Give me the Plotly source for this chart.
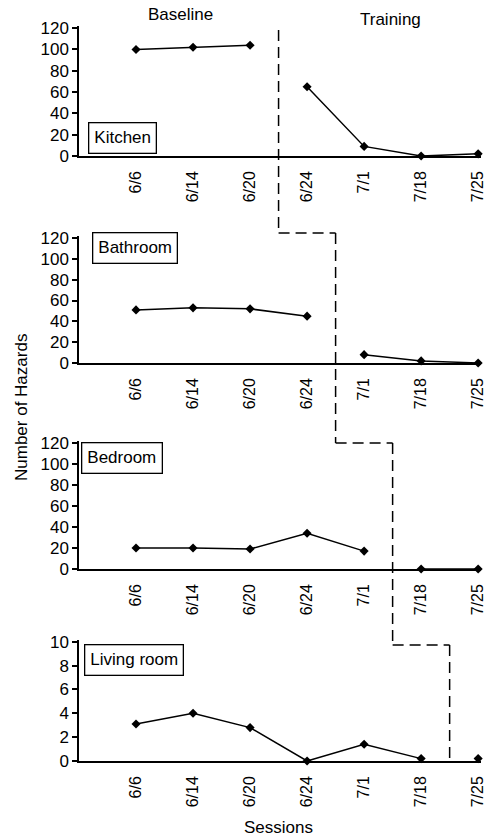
import plotly.graph_objects as go

# ---------------- data ----------------
sessions = ["6/6", "6/14", "6/20", "6/24", "7/1", "7/18", "7/25"]
rooms = ["Kitchen", "Bathroom", "Bedroom", "Living room"]
kitchen = [100, 102, 104, 65, 9, 0, 2]
bathroom = [51, 53, 52, 45, 8, 2, 0]
bedroom = [20, 20, 19, 34, 17, 0, 0]
living_room = [3.1, 4.0, 2.8, 0, 1.4, 0.2, 0.2]
baseline_len = [3, 4, 5, 6]          # number of baseline sessions per room
hazard_ticks = [0, 20, 40, 60, 80, 100, 120]
living_ticks = [0, 2, 4, 6, 8, 10]
phase_labels = ["Baseline", "Training"]
series = [kitchen, bathroom, bedroom, living_room]

# ---------------- layout geometry (pixels) ----------------
W, H = 487, 838
L, R, T, B = 79, 6, 26, 77
PW, PH = W - L - R, H - T - B
panel_px = [(26, 156), (236, 363), (441, 569), (640, 761)]
y_tops = [122, 122, 121.6, 10.15]


def yp(p):
    return (H - B - p) / PH


def xp(p):
    return (p - L) / PW


FONT = "Liberation Sans, Arial, sans-serif"
fig = go.Figure()

for i, (vals, nb) in enumerate(zip(series, baseline_len)):
    xa = "x" if i == 0 else f"x{i+1}"
    ya = "y" if i == 0 else f"y{i+1}"
    for seg in (slice(0, nb), slice(nb, None)):
        fig.add_trace(go.Scatter(
            x=sessions[seg], y=vals[seg], xaxis=xa, yaxis=ya,
            mode="lines+markers",
            line=dict(color="black", width=1.5),
            marker=dict(symbol="diamond", size=7, color="black"),
            cliponaxis=False, showlegend=False, hoverinfo="skip"))

layout = dict(
    width=W, height=H,
    margin=dict(l=L, r=R, t=T, b=B, pad=0, autoexpand=False),
    plot_bgcolor="white", paper_bgcolor="white",
    font=dict(family=FONT, size=16, color="black"),
    showlegend=False,
)

for i in range(4):
    top, bot = panel_px[i]
    xk = "xaxis" if i == 0 else f"xaxis{i+1}"
    yk = "yaxis" if i == 0 else f"yaxis{i+1}"
    layout[xk] = dict(
        domain=[0, 1], anchor="y" if i == 0 else f"y{i+1}",
        type="category", categoryorder="array", categoryarray=sessions,
        range=[-1, 6.05], showline=True, linecolor="black", linewidth=1.5,
        showgrid=False, zeroline=False, ticks="", tickangle=-90,
        automargin=False, ticklabelstandoff=7,
        tickfont=dict(size=16, family=FONT))
    layout[yk] = dict(
        domain=[yp(bot), yp(top)], anchor="x" if i == 0 else f"x{i+1}",
        range=[0, y_tops[i]], automargin=False,
        tickvals=living_ticks if i == 3 else hazard_ticks,
        showline=True, linecolor="black", linewidth=1.5,
        ticks="outside", ticklen=5, tickwidth=1.5, tickcolor="black",
        showgrid=False, zeroline=False,
        tickfont=dict(size=17, family=FONT))

fig.update_layout(**layout)

# room label boxes
label_pos = [(0.022, (156 - 154) / 130, "bottom"),
             (0.032, 1.03, "top"),
             (0.004, 0.995, "top"),
             (0.012, 0.97, "top")]
for i, (name, (lx, ly, ya)) in enumerate(zip(rooms, label_pos)):
    fig.add_annotation(
        text=name, xref=("x" if i == 0 else f"x{i+1}") + " domain",
        yref=("y" if i == 0 else f"y{i+1}") + " domain",
        x=lx, y=ly, xanchor="left", yanchor=ya, showarrow=False,
        font=dict(size=17, family=FONT), bordercolor="black",
        borderwidth=1.3, borderpad=5, bgcolor="white")

# phase-change dashed lines (stepped)
dash = "11px,6px"
step_y = [30, 233, 443, 645, 761]
for i, nb in enumerate(baseline_len):
    xline = nb - 0.5
    fig.add_shape(type="line", xref="x", yref="paper",
                  x0=xline, x1=xline, y0=yp(step_y[i]), y1=yp(step_y[i + 1]),
                  line=dict(color="black", width=1.5, dash=dash))
    if i < 3:
        fig.add_shape(type="line", xref="x", yref="paper",
                      x0=xline, x1=baseline_len[i + 1] - 0.5,
                      y0=yp(step_y[i + 1]), y1=yp(step_y[i + 1]),
                      line=dict(color="black", width=1.5, dash=dash))

# phase titles, axis titles
texts = [(phase_labels[0], 180, 15, 0), (phase_labels[1], 390, 20, 0),
         ("Number of Hazards", 21, 407, -90), ("Sessions", 278, 827, 0)]
for txt, px_, py_, ang in texts:
    fig.add_annotation(text=txt, xref="paper", yref="paper",
                       x=xp(px_), y=yp(py_), xanchor="center",
                       yanchor="middle", textangle=ang, showarrow=False,
                       font=dict(size=17, family=FONT))

fig.write_html("out.html", config={"displayModeBar": False},
               post_script="document.body.style.margin='0';")
